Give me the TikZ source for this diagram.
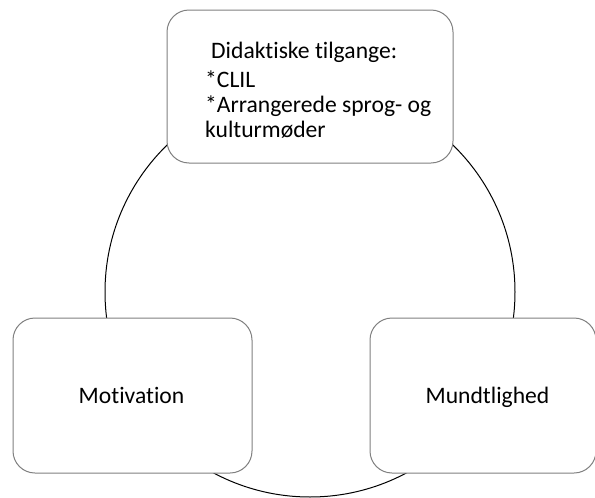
\documentclass[tikz,border=0pt]{standalone}
\usepackage{fontspec}
\setmainfont{Carlito}[RawFeature={-liga}]
\begin{document}
\begin{tikzpicture}[x=1pt,y=-1pt,
  box/.style={draw=black!50, line width=1pt, fill=white, rounded corners=22pt, inner sep=0pt},
  lbl/.style={font=\fontsize{23.6}{25}\selectfont, inner sep=0pt},
  ring/.style={draw=black, line width=1pt}]
\useasboundingbox (0,0) rectangle (595,498);
\node[ring, circle, minimum size=410pt, inner sep=0pt] (ring) at (310,292) {};
\node[box, minimum width=286pt, minimum height=153pt] (top) at (310,86.5) {};
\node[box, minimum width=239pt, minimum height=155pt] (left) at (132.5,395.5) {};
\node[box, minimum width=226pt, minimum height=155pt] (right) at (483,395.5) {};
\node[lbl, anchor=base west] (t1) at (211,58) {Didaktiske tilgange:};
\node[lbl, anchor=base west] (t2) at (205,87) {*CLIL};
\node[lbl, anchor=base west] (t3) at (205,112) {*Arrangerede sprog- og};
\node[lbl, anchor=base west] (t4) at (205,137) {kulturmøder};
\node[lbl, anchor=base] (m) at (131.5,403) {Motivation};
\node[lbl, anchor=base] (mu) at (487.5,403) {Mundtlighed};
\end{tikzpicture}
\end{document}
